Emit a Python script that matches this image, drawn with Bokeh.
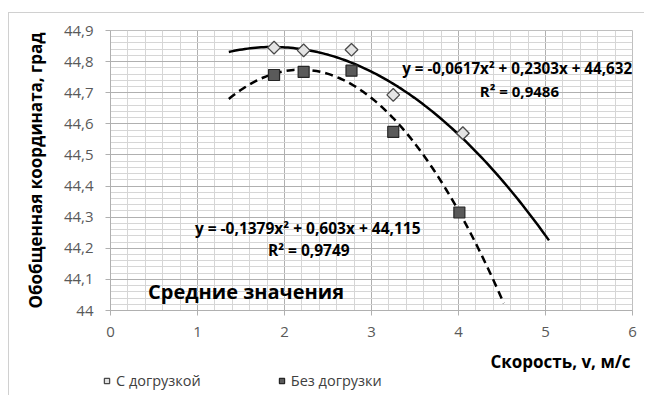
import numpy as np
from bokeh.plotting import figure
from bokeh.models import (Range1d, FixedTicker, Label, Legend, LegendItem)
from bokeh.embed import file_html
from bokeh.resources import INLINE

# ---- data ----
v_load = [1.88, 2.22, 2.77, 3.25, 4.05]
y_load = [44.845, 44.836, 44.838, 44.693, 44.570]
v_noload = [1.88, 2.22, 2.77, 3.25, 4.01]
y_noload = [44.757, 44.767, 44.771, 44.574, 44.315]

# trend-line coefficients as printed on the chart (a, b, c)
coef_load = [-0.0617, 0.2303, 44.632]
coef_noload = [-0.1379, 0.603, 44.115]
trend_load_range = [1.36, 5.04]
trend_noload_range = [1.36, 4.52]

eq_load = "y = -0,0617x² + 0,2303x + 44,632"
r2_load = "R² = 0,9486"
eq_noload = "y = -0,1379x² + 0,603x + 44,115"
r2_noload = "R² = 0,9749"

x_ticks = [0, 1, 2, 3, 4, 5, 6]
y_ticks = [44.0, 44.1, 44.2, 44.3, 44.4, 44.5, 44.6, 44.7, 44.8, 44.9]
y_tick_labels = ["44", "44,1", "44,2", "44,3", "44,4", "44,5", "44,6", "44,7", "44,8", "44,9"]

name_load = "С догрузкой"
name_noload = "Без догрузки"
title_text = "Средние значения"
x_title = "Скорость, v, м/с"
y_title = "Обобщенная координата, град"

FONT = "Open Sans"
DIAMOND = dict(marker="square", angle=np.pi / 4, size=9, fill_color="#e4e4e4",
               line_color="#4a4a4a", line_width=1.3)
SQUARE = dict(marker="square", size=11, fill_color="#5a5a5a",
              line_color="#262626", line_width=1.2)
BORDER = "1px solid #d0d0d0"

p = figure(width=636, height=337, output_backend="svg", toolbar_location=None,
           x_range=Range1d(0, 6), y_range=Range1d(44.0, 44.9),
           min_border_left=101, min_border_right=13, min_border_top=17,
           min_border_bottom=40)
p.styles = {"margin-left": "8px", "margin-top": "12px",
            "border-left": BORDER, "border-top": BORDER}
p.outline_line_color = "#bfbfbf"
p.background_fill_color = "white"
p.border_fill_color = "white"

# grids
p.xaxis.ticker = FixedTicker(ticks=x_ticks,
                             minor_ticks=list(np.round(np.arange(0, 6.001, 0.2), 3)))
p.yaxis.ticker = FixedTicker(ticks=y_ticks,
                             minor_ticks=list(np.round(np.arange(44.0, 44.901, 0.02), 3)))
p.yaxis.major_label_overrides = {t: l for t, l in zip(y_ticks, y_tick_labels)}
p.xgrid.grid_line_color = "#b0b0b0"
p.ygrid.grid_line_color = "#b0b0b0"
p.xgrid.minor_grid_line_color = "#d6d6d6"
p.ygrid.minor_grid_line_color = "#d6d6d6"

for ax in (p.xaxis[0], p.yaxis[0]):
    ax.axis_line_color = "#b0b0b0"
    ax.major_tick_line_color = "#b0b0b0"
    ax.major_tick_out = 5
    ax.major_tick_in = 0
    ax.minor_tick_out = 0
    ax.minor_tick_in = 0
    ax.major_label_text_font = FONT
    ax.major_label_text_font_size = "15px"
    ax.major_label_text_color = "#595959"
p.yaxis.major_label_standoff = 12
p.xaxis.major_label_standoff = 11

p.yaxis.axis_label = y_title
p.yaxis.axis_label_text_font = FONT
p.yaxis.axis_label_text_font_size = "17px"
p.yaxis.axis_label_text_font_style = "bold"
p.yaxis.axis_label_text_color = "black"
p.yaxis.axis_label_standoff = 14

# trend lines
xa = np.linspace(trend_load_range[0], trend_load_range[1], 120)
ya = np.polyval(coef_load, xa)
xb = np.linspace(trend_noload_range[0], trend_noload_range[1], 120)
yb = np.polyval(coef_noload, xb)
p.line(xa, ya, line_color="black", line_width=2.5)
p.line(xb, yb, line_color="black", line_width=2.5, line_dash="8 5")

# points
p.scatter(v_load, y_load, **DIAMOND)
p.scatter(v_noload, y_noload, **SQUARE)

def lab(fig, x, y, text, size, align="center"):
    fig.add_layout(Label(x=x, y=y, text=text, text_font=FONT, text_font_size=size,
                         text_font_style="bold", text_align=align,
                         text_baseline="middle", text_color="black"))

lab(p, 5.995, 44.778, eq_load, "15.2px", align="right")
lab(p, 4.70, 44.707, r2_load, "15px")
lab(p, 2.267, 44.264, eq_noload, "15.5px")
lab(p, 2.279, 44.196, r2_noload, "15.5px")
lab(p, 1.558, 44.061, title_text, "20px")

# bottom strip: x-axis title and legend (pixel coordinates)
p2 = figure(width=636, height=46, output_backend="svg", toolbar_location=None,
            x_range=Range1d(0, 636), y_range=Range1d(0, 46),
            x_axis_location=None, y_axis_location=None,
            min_border=0, min_border_left=0, min_border_right=0,
            min_border_top=0, min_border_bottom=0)
p2.styles = {"margin-left": "8px", "border-left": BORDER}
p2.grid.visible = False
p2.outline_line_color = None
p2.background_fill_color = "white"
p2.border_fill_color = "white"
lab(p2, 621, 34, x_title, "17px", align="right")
r1 = p2.scatter([-100], [-100], **DIAMOND)
r2 = p2.scatter([-100], [-100], **SQUARE)
legend = Legend(items=[LegendItem(label=name_load, renderers=[r1]),
                       LegendItem(label=name_noload, renderers=[r2])],
                orientation="horizontal", location=(91, 5),
                label_text_font=FONT, label_text_font_size="14.5px",
                label_text_color="#404040", glyph_width=13, glyph_height=13,
                label_standoff=3, spacing=74, padding=0, margin=0,
                border_line_color=None, background_fill_alpha=0)
p2.add_layout(legend, "center")

open("out.html", "w").write(file_html([p, p2], INLINE))
